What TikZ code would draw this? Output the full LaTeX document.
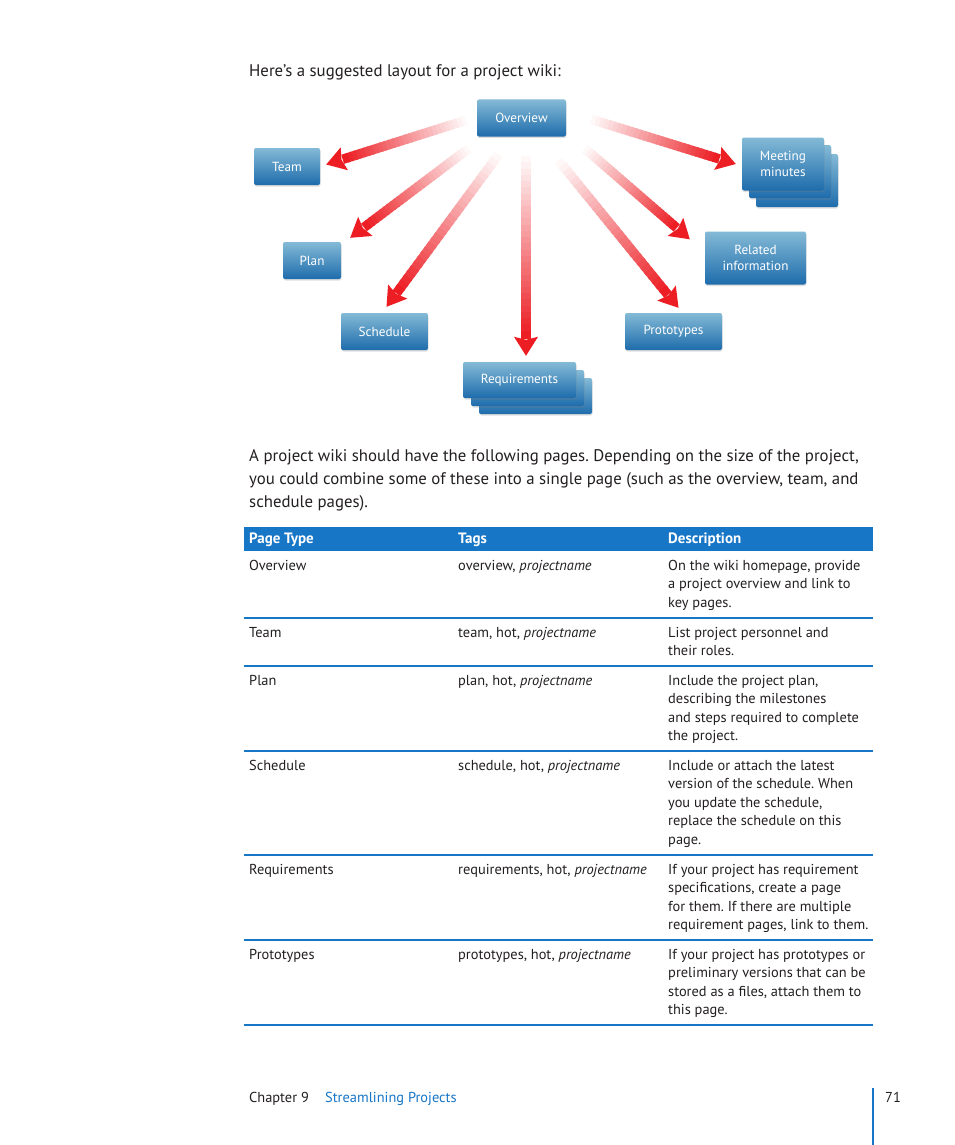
\documentclass[tikz,border=0pt]{standalone}
\usepackage{fontspec}
\setmainfont{PT Sans}
\usetikzlibrary{positioning,calc,shadows}
\definecolor{arrowred}{RGB}{236,30,36}
\definecolor{boxtop}{RGB}{132,186,214}
\definecolor{boxbot}{RGB}{30,108,172}
\definecolor{tabblue}{RGB}{24,118,198}
\definecolor{inktext}{RGB}{35,31,32}
\frenchspacing

% lines of text, hung from the first baseline
\newcommand{\lines}[1]{\begin{tabular}[t]{@{}l@{}}#1\end{tabular}}

% fading red arrow: #1 start, #2 tip
\newcommand{\fadearrow}[2]{%
  \coordinate (fa-s) at (#1);
  \coordinate (fa-t) at (#2);
  \coordinate (fa-b) at ($(fa-t)!19pt!(fa-s)$);
  \foreach \i in {0,...,29} {
    \pgfmathsetmacro{\ta}{\i/30}
    \pgfmathsetmacro{\tb}{(\i+1.4)/30}
    \pgfmathtruncatemacro{\pc}{\i*100/29}
    \draw[line width=9.5pt, arrowred!\pc!white] ($(fa-s)!\ta!(fa-b)$) -- ($(fa-s)!\tb!(fa-b)$);
  }
  \fill[arrowred] (fa-t) -- ($(fa-b)!12pt!90:(fa-t)$) -- ($(fa-b)!3pt!(fa-t)$)
    -- ($(fa-b)!12pt!-90:(fa-t)$) -- cycle;
}

\begin{document}
\begin{tikzpicture}[x=1pt,y=-1pt]
\tikzset{page/.style={rounded corners=2pt, top color=boxtop, bottom color=boxbot,
  text=white, font=\fontsize{13.2}{16.5}\selectfont, align=center, inner sep=0pt,
  minimum height=37pt,
  drop shadow={shadow xshift=0.5pt, shadow yshift=-1.5pt, opacity=0.25}}}
\tikzset{body/.style={anchor=base west, inner sep=0pt, text=inktext,
  font=\fontsize{16.8}{23}\selectfont}}
\tikzset{cell/.style={anchor=base west, inner sep=0pt, text=inktext,
  font=\fontsize{14.4}{18.5}\selectfont}}
\tikzset{head/.style={cell, text=white, font=\fontsize{15}{18.5}\selectfont\bfseries}}
\tikzset{rule/.style={tabblue, line width=1.3pt}}
\tikzset{foot/.style={anchor=base west, inner sep=0pt, font=\fontsize{14.4}{16}\selectfont}}

\fill[white] (0,0) rectangle (954,1145);
\useasboundingbox (0,0) rectangle (954,1145);

\node[body] (intro) at (249,77) {Here’s a suggested layout for a project wiki:};

% wiki pages
\node[page, minimum width=89pt] (overview) at (521.5,118) {Overview};
\node[page, minimum width=66pt] (team) at (287,166.5) {Team};
\node[page, minimum width=58pt] (plan) at (312,260.5) {Plan};
\node[page, minimum width=87pt] (schedule) at (384.5,331.5) {Schedule};
\node[page, minimum width=97pt] (proto) at (673.5,331.5) {Prototypes};
\node[page, minimum width=101pt, minimum height=53pt] (related) at (755.5,258) {Related\\information};
\node[page, minimum width=82pt, minimum height=53pt] (meet3) at (797,180.5) {};
\node[page, minimum width=82pt, minimum height=53pt] (meet2) at (790,171.5) {};
\node[page, minimum width=82pt, minimum height=53pt] (meet) at (783,164) {Meeting\\minutes};
\node[page, minimum width=113pt, minimum height=36pt] (req3) at (535.5,396) {};
\node[page, minimum width=113pt, minimum height=36pt] (req2) at (527.5,388) {};
\node[page, minimum width=113pt, minimum height=36pt] (req) at (519.5,380) {Requirements};

% arrows out of the overview
\coordinate (sTeam) at (470,119);
\coordinate (sPlan) at (472,146);
\coordinate (sSchedule) at (502,150);
\coordinate (sReq) at (526,150);
\coordinate (sProto) at (555,156);
\coordinate (sRelated) at (582,146);
\coordinate (sMeet) at (587,118);
\fadearrow{sTeam}{$(team.east)+(6,-2)$}
\fadearrow{sPlan}{$(plan.north east)+(9,-4)$}
\fadearrow{sSchedule}{$(schedule.north)+(2,-6)$}
\fadearrow{sReq}{$(req.north)+(6.5,-6)$}
\fadearrow{sProto}{$(proto.north)+(5,-5)$}
\fadearrow{sRelated}{$(related.north west)+(-15,8)$}
\fadearrow{sMeet}{$(meet.west)+(-6,0)$}

\node[body] (para) at (249,461) {\lines{A project wiki should have the following pages. Depending on the size of the project,\\
you could combine some of these into a single page (such as the overview, team, and\\
schedule pages).}};

% table
\fill[tabblue] (244,527) rectangle (873,551);
\node[head] (h1) at (249,543) {Page Type};
\node[head] (h2) at (458,543) {Tags};
\node[head] (h3) at (668,543) {Description};

\node[cell] (r1a) at (249,570) {Overview};
\node[cell] (r1b) at (458,570) {overview, \textit{projectname}};
\node[cell] (r1c) at (668,570) {\lines{On the wiki homepage, provide\\a project overview and link to\\key pages.}};
\draw[rule] (244,618) -- (873,618);

\node[cell] (r2a) at (249,637) {Team};
\node[cell] (r2b) at (458,637) {team, hot, \textit{projectname}};
\node[cell] (r2c) at (668,637) {\lines{List project personnel and\\their roles.}};
\draw[rule] (244,666) -- (873,666);

\node[cell] (r3a) at (249,685) {Plan};
\node[cell] (r3b) at (458,685) {plan, hot, \textit{projectname}};
\node[cell] (r3c) at (668,685) {\lines{Include the project plan,\\describing the milestones\\and steps required to complete\\the project.}};
\draw[rule] (244,751) -- (873,751);

\node[cell] (r4a) at (249,770) {Schedule};
\node[cell] (r4b) at (458,770) {schedule, hot, \textit{projectname}};
\node[cell] (r4c) at (668,770) {\lines{Include or attach the latest\\version of the schedule. When\\you update the schedule,\\replace the schedule on this\\page.}};
\draw[rule] (244,855) -- (873,855);

\node[cell] (r5a) at (249,874) {Requirements};
\node[cell] (r5b) at (458,874) {requirements, hot, \textit{projectname}};
\node[cell] (r5c) at (668,874) {\lines{If your project has requirement\\specifications, create a page\\for them. If there are multiple\\requirement pages, link to them.}};
\draw[rule] (244,940) -- (873,940);

\node[cell] (r6a) at (249,959) {Prototypes};
\node[cell] (r6b) at (458,959) {prototypes, hot, \textit{projectname}};
\node[cell] (r6c) at (668,959) {\lines{If your project has prototypes or\\preliminary versions that can be\\stored as a files, attach them to\\this page.}};
\draw[rule] (244,1025) -- (873,1025);

% footer
\node[foot, text=inktext] (chap) at (249,1102) {Chapter 9};
\node[foot, text=tabblue] (ctitle) at (325,1102) {Streamlining Projects};
\node[foot, text=inktext] (pnum) at (885,1102) {71};
\draw[tabblue, line width=1.5pt] (873,1088) -- (873,1145);
\end{tikzpicture}
\end{document}
